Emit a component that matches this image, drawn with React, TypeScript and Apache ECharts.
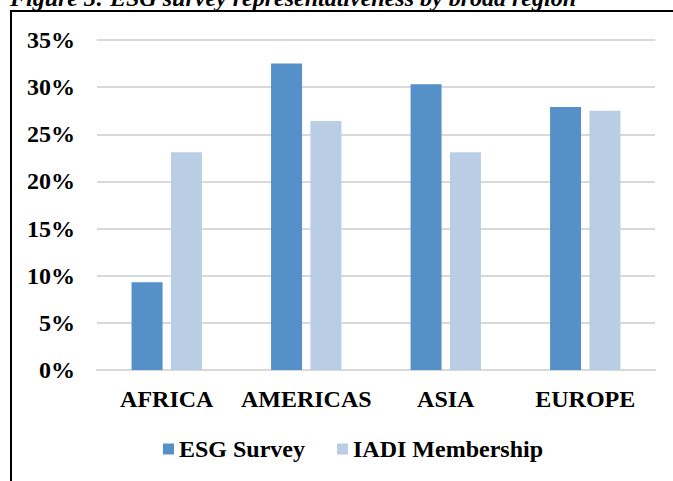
import React, { useEffect, useRef } from "react";
import * as echarts from "echarts";

const categories = ["AFRICA", "AMERICAS", "ASIA", "EUROPE"];
const esgSurvey = [9.3, 32.5, 30.3, 27.9];
const iadiMembership = [23.1, 26.4, 23.1, 27.5];
const seriesNames = ["ESG Survey", "IADI Membership"];
const titleText = "Figure 3: ESG survey representativeness by broad region";

const FONT = '"Liberation Serif", "Times New Roman", serif';

export default function App() {
  const ref = useRef<HTMLDivElement>(null);
  useEffect(() => {
    if (!ref.current) return;
    const chart = echarts.init(ref.current, null, { renderer: "svg" });
    chart.setOption({
      animation: false,
      backgroundColor: "#ffffff",
      textStyle: { fontFamily: FONT },
      graphic: [
        {
          type: "text",
          left: 10,
          top: -14,
          style: {
            text: titleText,
            font: `italic bold 24px ${FONT}`,
            fill: "#000",
          },
        },
        {
          type: "line",
          shape: { x1: 10, y1: 11, x2: 673, y2: 11 },
          style: { stroke: "#000", lineWidth: 2 },
        },
        {
          type: "line",
          shape: { x1: 11, y1: 10, x2: 11, y2: 481 },
          style: { stroke: "#000", lineWidth: 2 },
        },
      ],
      grid: { left: 97, right: 18, top: 40, bottom: 111 },
      legend: {
        data: seriesNames,
        left: 158,
        top: 432,
        itemWidth: 11,
        itemHeight: 11,
        itemGap: 32,
        icon: "rect",
        textStyle: {
          fontFamily: FONT,
          fontSize: 24,
          fontWeight: "bold",
          color: "#000",
        },
      },
      xAxis: {
        type: "category",
        data: categories,
        axisLine: { lineStyle: { color: "#d9d9d9", width: 2 } },
        axisTick: { show: false },
        axisLabel: {
          interval: 0,
          fontFamily: FONT,
          fontSize: 24,
          fontWeight: "bold",
          color: "#000",
          margin: 17,
        },
      },
      yAxis: {
        type: "value",
        min: 0,
        max: 35,
        interval: 5,
        axisLine: { show: false },
        axisTick: { show: false },
        splitLine: { lineStyle: { color: "#d9d9d9", width: 2 } },
        axisLabel: {
          formatter: "{value}%",
          fontFamily: FONT,
          fontSize: 24,
          fontWeight: "bold",
          color: "#000",
          margin: 22,
        },
      },
      series: [
        {
          name: seriesNames[0],
          type: "bar",
          data: esgSurvey,
          barWidth: 31,
          barGap: "27%",
          itemStyle: { color: "#5590c8" },
        },
        {
          name: seriesNames[1],
          type: "bar",
          data: iadiMembership,
          barWidth: 31,
          itemStyle: { color: "#b9cde5" },
        },
      ],
    });
    return () => chart.dispose();
  }, []);
  return (
    <div
      ref={ref}
      style={{ position: "fixed", left: 0, top: 0, width: 673, height: 481 }}
    />
  );
}
